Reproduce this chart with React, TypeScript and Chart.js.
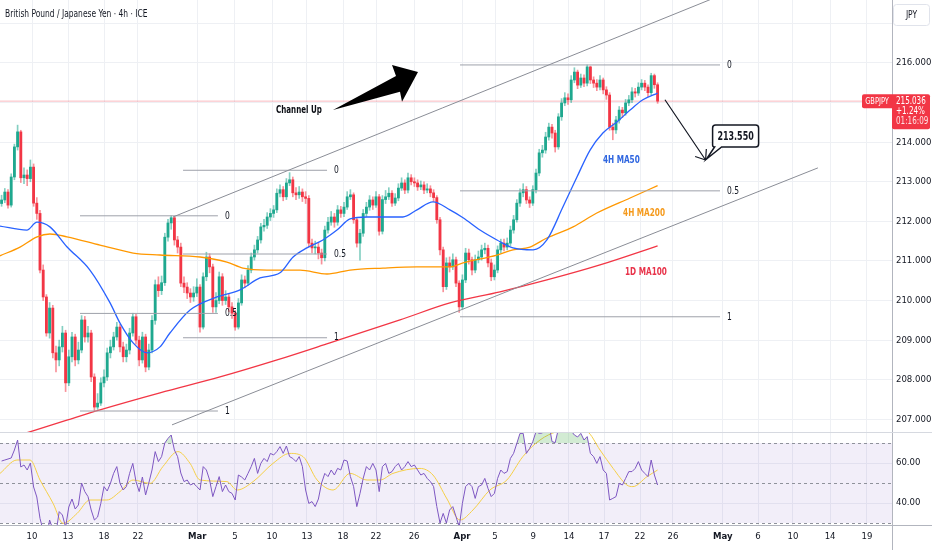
import React, { useEffect, useRef } from 'react';
import { Chart, registerables } from 'chart.js';

Chart.register(...registerables);

const FONT = "'Liberation Sans Narrow', 'DejaVu Sans Condensed', 'Liberation Sans', Arial, sans-serif";
const TEXT = '#131722';
const GRID = '#eef0f4';
const AXIS_LINE = '#b2b5be';
const UP = '#1fa88f';
const DOWN = '#f23645';
const UP_WICK = 'rgba(31,168,143,0.55)';
const DOWN_WICK = 'rgba(242,54,69,0.55)';
const FIB_COLOR = '#9ea1aa';
const CHANNEL_COLOR = '#8a8d96';

// ---- candles (4h bars, index 0..205) ----
const firstOpen = 212.45;
const closes = [
  212.54, 212.74, 212.41, 213.12, 213.88, 214.26, 213.10, 213.17, 213.08, 213.37,
  212.46, 212.20, 210.77, 210.09, 209.18, 209.81, 208.68, 208.50, 208.83, 209.18,
  207.92, 208.58, 209.08, 208.50, 208.75, 209.51, 209.08, 209.18, 208.07, 207.31,
  207.41, 207.92, 208.07, 208.68, 208.83, 209.08, 209.33, 208.83, 208.58, 208.75,
  209.18, 209.59, 209.00, 208.50, 209.08, 208.32, 208.75, 209.50, 210.40, 210.25,
  210.45, 211.60, 211.96, 212.09, 211.53, 211.35, 210.44, 210.34, 210.19, 210.09,
  210.19, 210.34, 209.33, 210.60, 211.10, 210.85, 209.84, 210.00, 210.60, 210.00,
  210.09, 209.84, 209.68, 209.33, 209.94, 210.52, 210.44, 210.77, 211.10, 211.28,
  211.53, 211.86, 211.90, 212.11, 212.20, 212.29, 212.71, 212.80, 212.62, 212.97,
  213.05, 212.72, 212.67, 212.74, 212.62, 212.58, 211.45, 211.33, 211.35, 211.20,
  211.08, 211.78, 211.98, 212.11, 211.98, 212.29, 212.20, 212.36, 212.62, 212.67,
  212.04, 211.45, 211.70, 212.20, 212.36, 212.54, 212.41, 212.62, 211.75, 212.55,
  212.62, 212.71, 212.46, 212.59, 212.84, 212.97, 212.79, 213.10, 213.00, 212.97,
  212.87, 212.92, 212.79, 212.82, 212.72, 212.60, 212.04, 211.28, 210.35, 210.95,
  210.85, 211.03, 210.44, 209.84, 210.52, 211.20, 211.03, 210.77, 211.03, 211.10,
  211.28, 211.32, 210.95, 210.60, 210.77, 211.28, 211.45, 211.35, 211.45, 211.78,
  212.04, 212.46, 212.72, 212.80, 212.54, 212.46, 212.80, 213.22, 213.73, 213.80,
  214.13, 214.38, 214.23, 213.88, 214.64, 214.99, 215.12, 215.07, 215.57, 215.77,
  215.44, 215.62, 215.49, 215.90, 215.57, 215.49, 215.39, 215.57, 215.32, 215.19,
  214.38, 214.31, 214.56, 214.81, 214.74, 214.99, 215.07, 215.27, 215.24, 215.39,
  215.49, 215.39, 215.25, 215.68, 215.45, 215.036,
];
const highs = [
  212.66, 212.83, 212.80, 213.20, 213.95, 214.43, 214.30, 213.35, 213.30, 213.55,
  213.45, 212.60, 212.28, 210.90, 210.15, 209.95, 209.88, 208.85, 209.00, 209.35,
  209.25, 208.75, 209.20, 209.15, 208.95, 209.62, 209.60, 209.35, 209.25, 208.15,
  207.65, 208.05, 208.25, 208.80, 209.00, 209.20, 209.45, 209.40, 208.95, 208.90,
  209.30, 209.68, 209.65, 209.10, 209.20, 209.15, 208.90, 209.62, 210.52, 210.60,
  210.62, 211.70, 212.05, 212.14, 212.12, 211.62, 211.45, 210.60, 210.45, 210.30,
  210.35, 210.55, 210.40, 210.70, 211.22, 211.18, 210.92, 210.20, 210.72, 210.68,
  210.25, 210.18, 209.95, 209.75, 210.05, 210.65, 210.62, 210.88, 211.20, 211.40,
  211.62, 211.95, 212.05, 212.22, 212.32, 212.40, 212.82, 212.92, 212.88, 213.08,
  213.23, 213.12, 212.85, 212.88, 212.82, 212.75, 212.65, 211.55, 211.50, 211.45,
  211.30, 211.88, 212.10, 212.25, 212.20, 212.40, 212.38, 212.48, 212.75, 212.80,
  212.72, 212.10, 211.80, 212.30, 212.48, 212.65, 212.62, 212.75, 212.68, 212.65,
  212.78, 212.85, 212.78, 212.70, 212.95, 213.10, 213.05, 213.22, 213.18, 213.10,
  213.05, 213.02, 213.00, 212.95, 212.90, 212.80, 212.65, 212.10, 211.35, 211.08,
  211.10, 211.18, 211.10, 210.50, 210.65, 211.32, 211.30, 211.10, 211.15, 211.25,
  211.40, 211.45, 211.40, 211.05, 210.90, 211.38, 211.55, 211.55, 211.58, 211.88,
  212.15, 212.55, 212.82, 212.95, 212.88, 212.62, 212.90, 213.32, 213.82, 213.92,
  214.25, 214.48, 214.45, 214.30, 214.72, 215.10, 215.25, 215.22, 215.68, 215.88,
  215.82, 215.72, 215.70, 215.95, 215.92, 215.65, 215.58, 215.68, 215.62, 215.40,
  215.25, 214.48, 214.65, 214.90, 214.88, 215.08, 215.18, 215.38, 215.36, 215.50,
  215.58, 215.56, 215.45, 215.74, 215.72, 215.50,
];
const lows = [
  212.38, 212.47, 212.33, 212.36, 213.05, 213.80, 212.98, 212.95, 212.90, 213.00,
  212.38, 212.05, 210.70, 210.00, 209.10, 209.05, 208.55, 208.20, 208.35, 208.70,
  207.70, 207.85, 208.45, 208.35, 208.40, 208.68, 208.95, 208.95, 207.95, 207.22,
  207.25, 207.35, 207.82, 207.98, 208.55, 208.75, 209.00, 208.70, 208.45, 208.45,
  208.65, 209.10, 208.90, 208.35, 208.42, 208.20, 208.25, 208.68, 209.40, 210.10,
  210.15, 210.38, 211.50, 211.80, 211.40, 211.20, 210.35, 210.20, 210.05, 209.95,
  209.98, 210.10, 209.20, 209.28, 210.50, 210.70, 209.70, 209.70, 209.92, 209.88,
  209.90, 209.72, 209.55, 209.25, 209.28, 209.88, 210.32, 210.38, 210.70, 211.02,
  211.20, 211.45, 211.75, 211.82, 212.02, 212.10, 212.22, 212.62, 212.52, 212.55,
  212.90, 212.62, 212.55, 212.58, 212.50, 212.45, 211.35, 211.20, 211.18, 211.05,
  210.92, 211.00, 211.70, 211.90, 211.85, 211.90, 212.10, 212.12, 212.30, 212.55,
  211.95, 211.35, 211.02, 211.62, 212.12, 212.28, 212.30, 212.35, 211.65, 211.68,
  212.45, 212.55, 212.38, 212.40, 212.52, 212.78, 212.70, 212.72, 212.92, 212.88,
  212.78, 212.80, 212.70, 212.72, 212.62, 212.50, 211.95, 211.15, 210.22, 210.28,
  210.72, 210.78, 210.35, 209.70, 209.78, 210.45, 210.92, 210.65, 210.70, 210.95,
  211.02, 211.18, 210.85, 210.50, 210.52, 210.70, 211.20, 211.25, 211.28, 211.38,
  211.70, 211.98, 212.38, 212.62, 212.45, 212.35, 212.40, 212.72, 213.15, 213.62,
  213.72, 214.05, 214.10, 213.75, 213.82, 214.55, 214.92, 214.95, 215.00, 215.50,
  215.35, 215.38, 215.40, 215.42, 215.48, 215.38, 215.30, 215.32, 215.22, 215.08,
  214.30, 214.06, 214.22, 214.48, 214.62, 214.68, 214.92, 215.00, 215.14, 215.18,
  215.32, 215.30, 215.15, 215.20, 215.36, 214.98,
];

// ---- RSI (per bar) ----
const rsiValues = [
  61, 61.5, 62, 62.5, 66.5, 71.5, 58, 59, 56.5, 60,
  48, 43, 32.3, 26, 22, 31.5, 27, 25, 35.7, 34,
  28, 38, 42, 37, 39, 50, 45.7, 43.2, 36.5, 31.5,
  33, 39.8, 48.2, 46, 49.8, 54.8, 58.2, 49.8, 46.5, 48.2,
  54.8, 59.8, 50.7, 45.7, 53, 44, 50, 56.5, 65.7, 60.7,
  63.2, 70, 72.3, 74, 66.5, 63.2, 55, 50.7, 51.5, 49,
  49.8, 48.2, 46.5, 58.2, 56.5, 51.5, 43.2, 48.2, 53.2, 45.7,
  49, 45.7, 44.8, 41.5, 54, 53, 51.5, 54.8, 58.2, 62.3,
  54.8, 59.8, 62.3, 60.7, 64.8, 64, 65.7, 68.2, 64.8, 68.5,
  63.2, 62.3, 60.7, 63.2, 58.2, 46.5, 39.8, 40.7, 38.2, 42,
  50, 54.8, 53.2, 56.5, 54, 57.3, 56.5, 61.5, 61, 53.2,
  48.2, 38.2, 44.8, 52.3, 58.2, 56.5, 59.8, 56.5, 45.7, 58.2,
  59.8, 54.8, 55.7, 58.2, 59.8, 56.5, 58.2, 60.7, 58.2, 59,
  56.5, 54, 54.8, 52.3, 50.7, 48.2, 38.2, 30, 34.8, 30,
  36.5, 38.2, 33.2, 28, 39.8, 48.2, 49.8, 48.2, 42.3, 48.2,
  49, 52.3, 47.3, 43.2, 44.8, 52.3, 56.5, 54.8, 55.7, 62.3,
  64.8, 69.8, 74.8, 74.8, 64.8, 67.3, 70.7, 75.7, 74.8, 75,
  78, 80, 70.7, 70.2, 77, 80, 81, 79, 76, 74,
  73, 74.8, 71.5, 73.2, 64.8, 63.2, 59.8, 63.2, 56.5, 54.8,
  41.5, 42.3, 43.2, 49.8, 49, 52.3, 55.7, 55.7, 57.3, 60.7,
  56.5, 54.8, 53.2, 61.5, 54, 49,
];
const rsiMaBars = [-0.5, 4.8, 8.9, 12, 16.1, 19.2, 23.6, 27.6, 32.9, 37, 41.1, 46.4, 50.4, 55.1, 58.9, 62, 70.4, 73.6, 78.6, 84.8, 90.1, 94.2, 98.6, 103.6, 108.9, 114.2, 118.25, 122.3, 130.75, 134.8, 139.2, 143.25, 147.3, 152.6, 157.9, 162.9, 168.25, 173.6, 178.6, 182.9, 187, 191.1, 195.4, 197.3, 201.7, 205];
const rsiMaVals = [54.8, 61.5, 61.5, 51.5, 39.8, 29.8, 34.8, 41.5, 41.5, 45.7, 51.5, 49.8, 58.2, 65.7, 59.8, 51.5, 50.7, 46.5, 50.7, 59.8, 64.8, 63.2, 51.5, 46.5, 54.8, 51.5, 51.5, 54.8, 57.3, 54, 42, 31.5, 36.5, 46.5, 51.5, 63.2, 71.5, 75.7, 76.5, 75.7, 66.5, 57.3, 49, 48.2, 53.2, 56.5];

// ---- moving averages ----
const ma50Bars = [-0.5, 7.9, 11.06, 15.1, 20.4, 27.6, 33.9, 37, 41.1, 45.4, 49.5, 52.6, 58.9, 67.3, 74.5, 80.75, 87, 91.1, 95.4, 100.4, 104.8, 108.9, 114.2, 125.4, 129.8, 134.8, 140.1, 144.2, 149.5, 154.8, 159.8, 166.1, 170.4, 175.4, 179.8, 183.9, 187.9, 192.3, 196.4, 200.4, 205];
const ma50Vals = [211.88, 211.78, 211.98, 211.86, 211.36, 210.77, 209.94, 209.43, 208.93, 208.68, 208.83, 209.18, 209.76, 210.09, 210.27, 210.57, 210.70, 211.10, 211.33, 211.53, 211.78, 212.06, 212.11, 212.11, 212.29, 212.49, 212.29, 212.09, 211.78, 211.53, 211.33, 211.28, 211.53, 212.36, 213.12, 213.80, 214.23, 214.51, 214.81, 215.07, 215.24];
const ma200Bars = [-0.5, 5.75, 11.1, 15.1, 20.4, 30.75, 41.1, 49.5, 62, 70.4, 75.4, 82.9, 93.25, 101.7, 108.9, 119.2, 129.8, 140.1, 144.2, 154.8, 159.8, 165.1, 170.4, 178.6, 186, 196.4, 205];
const ma200Vals = [211.13, 211.35, 211.61, 211.68, 211.61, 211.40, 211.20, 211.15, 211.10, 210.97, 210.82, 210.77, 210.77, 210.67, 210.77, 210.82, 210.85, 210.85, 210.95, 211.15, 211.28, 211.35, 211.58, 211.86, 212.21, 212.59, 212.90];
const ma100Bars = [-0.5, 9.8, 20.4, 30.75, 49.5, 68.25, 86.1, 102.6, 124.5, 140.1, 155.75, 170.4, 187, 205];
const ma100Vals = [206.45, 206.71, 206.98, 207.24, 207.67, 208.07, 208.50, 208.93, 209.51, 209.94, 210.22, 210.52, 210.90, 211.38];

// ---- drawings ----
const channelUpperBars = [53.56, 224.5];
const channelUpperVals = [212.11, 217.70];
const channelLowerBars = [53.25, 255.1];
const channelLowerVals = [206.86, 213.35];
const fibStartBars = [24.5, 56.7, 143.25];
const fibEndBars = [67.6, 101.7, 224.5];
const fibTop = [212.14, 213.29, 215.95];
const fibBottom = [207.21, 209.06, 209.59];
const fibLevels = [0, 0.5, 1];
const arrowPolyBars = [103.56, 123.25, 122.0, 130.125, 125.125, 124.5];
const arrowPolyVals = [214.81, 215.67, 215.95, 215.77, 215.02, 215.27];
const channelTextBar = 85.75;
const channelTextVal = 214.81;
const projFromBar = 207.3;
const projFromVal = 215.07;
const targetBar = 220;
const targetVal = 213.55;
const maLabelTexts = ['4H MA50', '4H MA200', '1D MA100'];
const maLabelBars = [187.9, 194.2, 194.8];
const maLabelVals = [213.55, 212.21, 210.72];
const maColors = ['#2962ff', '#ff9800', '#f23645'];
const maLabelColors = ['#2f66e0', '#f59a1c', '#e8334a'];

// ---- axes ----
const xTickPos = [9.5, 20.75, 32, 42.6, 61.1, 72.9, 84.5, 95.4, 106.7, 117, 128.9, 143.9, 154.2, 166.1, 177.3, 188.25, 199.5, 209.8, 225.4, 236.4, 247.3, 258.9, 270.4];
const xTickLabels = ['10', '13', '18', '22', 'Mar', '5', '10', '13', '18', '22', '26', 'Apr', '5', '9', '14', '17', '22', '26', 'May', '6', '10', '14', '19'];
const priceGrid = [207, 208, 209, 210, 211, 212, 213, 214, 215, 216, 217];
const priceLabels = [207, 208, 209, 210, 211, 212, 213, 214, 216];
const rsiGrid = [40, 60];
const rsiLevels = [70, 50, 30];
const X_MIN = -0.5;
const X_MAX = 278.25;
const PRICE_MIN = 206.68;
const PRICE_MAX = 217.59;
const RSI_MIN = 29;
const RSI_MAX = 75.5;

function lineDs(bars: number[], vals: number[], color: string, width: number, extra: any = {}) {
  return {
    type: 'line',
    data: bars.map((b, i) => ({ x: b, y: vals[i] })),
    borderColor: color,
    borderWidth: width,
    pointRadius: 0,
    pointHoverRadius: 0,
    fill: false,
    ...extra,
  };
}

function zeroPad(s: any) {
  s.paddingTop = 0;
  s.paddingBottom = 0;
  s.paddingLeft = 0;
  s.paddingRight = 0;
}

// narrow text helper (horizontal squeeze to mimic the condensed UI font)
function text(ctx: any, str: string, x: number, y: number, font: string, color: string, align: string, sx: number) {
  ctx.save();
  ctx.font = font;
  ctx.fillStyle = color;
  ctx.textBaseline = 'middle';
  ctx.textAlign = align;
  ctx.translate(x, y);
  ctx.scale(sx, 1);
  ctx.fillText(str, 0, 0);
  ctx.restore();
}

const priceOverlay = {
  id: 'priceOverlay',
  afterDatasetsDraw(chart: any) {
    const { ctx, chartArea: a, scales } = chart;
    const X = (v: number) => scales.x.getPixelForValue(v);
    const Y = (v: number) => scales.y.getPixelForValue(v);
    ctx.save();
    ctx.beginPath();
    ctx.rect(a.left, a.top, a.width, a.height);
    ctx.clip();

    // fib labels
    fibStartBars.forEach((_, k) => {
      fibLevels.forEach((l) => {
        const p = fibTop[k] - l * (fibTop[k] - fibBottom[k]);
        text(ctx, String(l), X(fibEndBars[k]) + 7, Y(p), `10.5px ${FONT}`, TEXT, 'left', 0.8);
      });
    });

    // channel arrow
    ctx.fillStyle = '#000';
    ctx.beginPath();
    arrowPolyBars.forEach((b, i) => {
      const px = X(b);
      const py = Y(arrowPolyVals[i]);
      if (i === 0) ctx.moveTo(px, py);
      else ctx.lineTo(px, py);
    });
    ctx.closePath();
    ctx.fill();

    text(ctx, 'Channel Up', X(channelTextBar), Y(channelTextVal), `bold 11px ${FONT}`, '#0b0e14', 'left', 0.72);

    // MA labels
    maLabelTexts.forEach((t, i) => {
      text(ctx, t, X(maLabelBars[i]), Y(maLabelVals[i]), `bold 11px ${FONT}`, maLabelColors[i], 'left', 0.74);
    });

    // projection arrow
    const x0 = X(projFromBar);
    const y0 = Y(projFromVal);
    const x1 = X(targetBar);
    const y1 = Y(targetVal);
    ctx.strokeStyle = '#131722';
    ctx.lineWidth = 1.2;
    ctx.beginPath();
    ctx.moveTo(x0, y0);
    ctx.lineTo(x1, y1);
    const ang = Math.atan2(y0 - y1, x0 - x1);
    [-0.66, 0.66].forEach((d) => {
      ctx.moveTo(x1, y1);
      ctx.lineTo(x1 + 11 * Math.cos(ang + d), y1 + 11 * Math.sin(ang + d));
    });
    ctx.stroke();

    // callout
    const bx = x1 + 7;
    const bw = 46;
    const bh = 22;
    const by = y1 - 13 - bh;
    const r = 3;
    ctx.beginPath();
    ctx.moveTo(bx + r, by);
    ctx.lineTo(bx + bw - r, by);
    ctx.quadraticCurveTo(bx + bw, by, bx + bw, by + r);
    ctx.lineTo(bx + bw, by + bh - r);
    ctx.quadraticCurveTo(bx + bw, by + bh, bx + bw - r, by + bh);
    ctx.lineTo(bx + 9, by + bh);
    ctx.lineTo(x1 + 1, y1 - 1);
    ctx.lineTo(bx + 2, by + bh);
    ctx.quadraticCurveTo(bx, by + bh, bx, by + bh - 2);
    ctx.lineTo(bx, by + r);
    ctx.quadraticCurveTo(bx, by, bx + r, by);
    ctx.closePath();
    ctx.fillStyle = '#fff';
    ctx.fill();
    ctx.lineWidth = 1.5;
    ctx.strokeStyle = '#131722';
    ctx.stroke();
    text(ctx, targetVal.toFixed(3), bx + bw / 2, by + bh / 2 + 0.5, `bold 12px ${FONT}`, '#131722', 'center', 0.74);
    ctx.restore();
  },
  afterDraw(chart: any) {
    const { ctx, chartArea: a, scales } = chart;
    const last = closes[closes.length - 1];
    const yp = scales.y.getPixelForValue(last);
    ctx.save();
    // title
    text(ctx, 'British Pound / Japanese Yen \u00b7 4h \u00b7 ICE', 5, 14, `11px ${FONT}`, TEXT, 'left', 0.76);
    // JPY box
    ctx.fillStyle = '#fff';
    ctx.strokeStyle = '#e0e3eb';
    ctx.lineWidth = 1;
    ctx.beginPath();
    ctx.roundRect(a.right + 1.5, 4.5, 36, 21, 3);
    ctx.fill();
    ctx.stroke();
    text(ctx, 'JPY', a.right + 19.5, 15, `10.5px ${FONT}`, TEXT, 'center', 0.8);
    // price tag
    ctx.fillStyle = '#f23645';
    ctx.beginPath();
    ctx.roundRect(a.right - 30, yp - 7, 30, 14, [2, 0, 0, 2]);
    ctx.fill();
    ctx.beginPath();
    ctx.roundRect(a.right, yp - 7, 38, 35, [0, 2, 2, 2]);
    ctx.fill();
    text(ctx, 'GBPJPY', a.right - 15, yp, `9.5px ${FONT}`, '#fff', 'center', 0.78);
    text(ctx, last.toFixed(3), a.right + 4, yp, `10px ${FONT}`, '#fff', 'left', 0.8);
    text(ctx, '+1.24%', a.right + 4, yp + 10, `10px ${FONT}`, '#fff', 'left', 0.8);
    text(ctx, '01:16:09', a.right + 4, yp + 20, `10px ${FONT}`, 'rgba(255,255,255,0.85)', 'left', 0.8);
    ctx.restore();
  },
};

const rsiOverlay = {
  id: 'rsiOverlay',
  beforeDatasetsDraw(chart: any) {
    const { ctx, chartArea: a, scales } = chart;
    const y = scales.y;
    const top = y.getPixelForValue(rsiLevels[0]);
    const bottom = y.getPixelForValue(rsiLevels[rsiLevels.length - 1]);
    ctx.save();
    ctx.fillStyle = 'rgba(126,87,194,0.1)';
    ctx.fillRect(a.left, top, a.width, bottom - top);
    ctx.setLineDash([3, 3]);
    ctx.strokeStyle = '#8f929b';
    ctx.lineWidth = 1;
    rsiLevels.forEach((l) => {
      const py = Math.round(y.getPixelForValue(l)) + 0.5;
      ctx.beginPath();
      ctx.moveTo(a.left, py);
      ctx.lineTo(a.right, py);
      ctx.stroke();
    });
    ctx.restore();
  },
  afterDraw(chart: any) {
    const { ctx, chartArea: a, width, height } = chart;
    ctx.save();
    ctx.strokeStyle = '#d6d9e0';
    ctx.lineWidth = 1;
    ctx.beginPath();
    ctx.moveTo(0, 0.5);
    ctx.lineTo(width, 0.5);
    ctx.stroke();
    ctx.strokeStyle = AXIS_LINE;
    ctx.beginPath();
    ctx.moveTo(a.right + 0.5, a.bottom);
    ctx.lineTo(a.right + 0.5, height);
    ctx.moveTo(a.right, a.bottom + 0.5);
    ctx.lineTo(width, a.bottom + 0.5);
    ctx.stroke();
    ctx.restore();
  },
};

function buildPriceChart(canvas: HTMLCanvasElement) {
  const opens = closes.map((c, i) => (i === 0 ? firstOpen : closes[i - 1]));
  const up = closes.map((c, i) => c >= opens[i]);
  const fibDs: any[] = [];
  fibStartBars.forEach((s, k) => {
    fibLevels.forEach((l) => {
      const p = fibTop[k] - l * (fibTop[k] - fibBottom[k]);
      fibDs.push(lineDs([s, fibEndBars[k]], [p, p], FIB_COLOR, 1));
    });
  });
  const last = closes[closes.length - 1];
  const datasets: any[] = [
    lineDs(channelUpperBars, channelUpperVals, CHANNEL_COLOR, 1),
    lineDs(channelLowerBars, channelLowerVals, CHANNEL_COLOR, 1),
    ...fibDs,
    lineDs(ma50Bars, ma50Vals, maColors[0], 1.3, { cubicInterpolationMode: 'monotone' }),
    lineDs(ma200Bars, ma200Vals, maColors[1], 1.3, { cubicInterpolationMode: 'monotone' }),
    lineDs(ma100Bars, ma100Vals, maColors[2], 1.3, { cubicInterpolationMode: 'monotone' }),
    {
      type: 'bar',
      data: closes.map((c, i) => ({ x: i, y: [opens[i], c] })),
      backgroundColor: up.map((u) => (u ? UP : DOWN)),
      barThickness: 2.2,
      minBarLength: 1,
      grouped: false,
      borderWidth: 0,
    },
    {
      type: 'bar',
      data: closes.map((c, i) => ({ x: i, y: [lows[i], highs[i]] })),
      backgroundColor: up.map((u) => (u ? UP_WICK : DOWN_WICK)),
      barThickness: 1,
      grouped: false,
      borderWidth: 0,
    },
    lineDs([X_MIN, X_MAX], [last, last], 'rgba(242,54,69,0.35)', 1),
  ];
  return new Chart(canvas, {
    type: 'bar',
    data: { datasets },
    options: {
      responsive: false,
      animation: false,
      events: [],
      layout: { padding: 0 },
      plugins: { legend: { display: false }, tooltip: { enabled: false } },
      scales: {
        x: {
          type: 'linear',
          min: X_MIN,
          max: X_MAX,
          offset: false,
          afterBuildTicks: (s: any) => {
            s.ticks = xTickPos.map((v) => ({ value: v }));
          },
          ticks: { display: false },
          grid: { color: GRID, drawTicks: false, offset: false },
          border: { display: false },
          afterFit: (s: any) => {
            s.height = 0;
            zeroPad(s);
          },
        },
        y: {
          type: 'linear',
          position: 'right',
          min: PRICE_MIN,
          max: PRICE_MAX,
          afterBuildTicks: (s: any) => {
            s.ticks = priceGrid.map((v) => ({ value: v }));
          },
          ticks: {
            autoSkip: false,
            padding: 4,
            color: TEXT,
            font: { family: FONT, size: 9.5 },
            callback: (v: any) => (priceLabels.includes(v) ? Number(v).toFixed(3) : ''),
          },
          grid: { color: GRID, drawTicks: false },
          border: { display: true, color: AXIS_LINE },
          afterFit: (s: any) => {
            s.width = 40;
            zeroPad(s);
          },
        },
      },
    } as any,
    plugins: [priceOverlay],
  } as any);
}

function buildRsiChart(canvas: HTMLCanvasElement) {
  return new Chart(canvas, {
    type: 'line',
    data: {
      datasets: [
        lineDs(closes.map((_, i) => i), rsiValues, '#7e57c2', 1, {
          fill: { target: { value: 70 }, above: 'rgba(76,175,80,0.25)', below: 'rgba(0,0,0,0)' },
        }),
        lineDs(rsiMaBars, rsiMaVals, '#f5cf47', 1, { cubicInterpolationMode: 'monotone' }),
      ] as any,
    },
    options: {
      responsive: false,
      animation: false,
      events: [],
      layout: { padding: 0 },
      plugins: { legend: { display: false }, tooltip: { enabled: false } },
      scales: {
        x: {
          type: 'linear',
          min: X_MIN,
          max: X_MAX,
          offset: false,
          afterBuildTicks: (s: any) => {
            s.ticks = xTickPos.map((v) => ({ value: v }));
          },
          ticks: {
            autoSkip: false,
            maxRotation: 0,
            padding: 6,
            color: TEXT,
            font: (c: any) => ({
              family: FONT,
              size: 9.5,
              weight: isNaN(Number(xTickLabels[c.index])) ? 'bold' : 'normal',
            }),
            callback: (_v: any, i: number) => xTickLabels[i],
          },
          grid: { color: GRID, drawTicks: false },
          border: { display: true, color: AXIS_LINE },
          afterFit: (s: any) => {
            s.height = 25;
            zeroPad(s);
          },
        },
        y: {
          type: 'linear',
          position: 'right',
          min: RSI_MIN,
          max: RSI_MAX,
          afterBuildTicks: (s: any) => {
            s.ticks = rsiGrid.map((v) => ({ value: v }));
          },
          ticks: {
            autoSkip: false,
            padding: 4,
            color: TEXT,
            font: { family: FONT, size: 9.5 },
            callback: (v: any) => Number(v).toFixed(2),
          },
          grid: { color: GRID, drawTicks: false },
          border: { display: true, color: AXIS_LINE },
          afterFit: (s: any) => {
            s.width = 40;
            zeroPad(s);
          },
        },
      },
    } as any,
    plugins: [rsiOverlay],
  } as any);
}

export default function App() {
  const priceRef = useRef<HTMLCanvasElement>(null);
  const rsiRef = useRef<HTMLCanvasElement>(null);
  useEffect(() => {
    document.body.style.margin = '0';
    const c1 = buildPriceChart(priceRef.current as HTMLCanvasElement);
    const c2 = buildRsiChart(rsiRef.current as HTMLCanvasElement);
    return () => {
      c1.destroy();
      c2.destroy();
    };
  }, []);
  return (
    <div style={{ width: 932, height: 550, background: '#fff', overflow: 'hidden' }}>
      <canvas ref={priceRef} width={932} height={432} style={{ display: 'block', width: 932, height: 432 }} />
      <canvas ref={rsiRef} width={932} height={118} style={{ display: 'block', width: 932, height: 118 }} />
    </div>
  );
}
